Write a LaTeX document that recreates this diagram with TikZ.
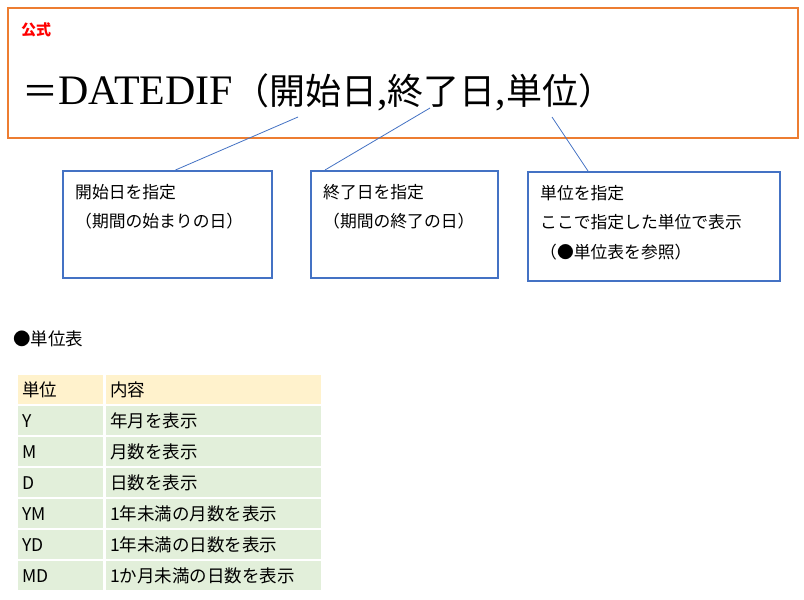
\documentclass[tikz,border=0pt]{standalone}
\usepackage{fontspec}
\setmainfont{Liberation Serif}
\newfontfamily\jpfont{Noto Sans CJK JP}
\usetikzlibrary{positioning}
\definecolor{frameorange}{HTML}{ED7D31}
\definecolor{noteblue}{HTML}{4472C4}
\definecolor{headfill}{HTML}{FFF2CC}
\definecolor{rowfill}{HTML}{E2EFDA}

\begin{document}
\begin{tikzpicture}[x=1pt,y=-1pt,
	frame/.style={draw=frameorange,line width=2pt,anchor=north west,inner sep=0pt},
	note/.style={draw=noteblue,line width=2pt,anchor=north west,inner sep=0pt},
	link/.style={draw=noteblue,line width=0.8pt},
	notetext/.style={anchor=west,inner sep=0pt,font=\jpfont\fontsize{16.8}{20}\selectfont},
	cell/.style={anchor=north west,fill=rowfill,inner xsep=4pt,inner ysep=0pt,minimum height=29pt,align=left,font=\jpfont\fontsize{17.5}{20}\selectfont},
	headcell/.style={cell,fill=headfill}]
	\useasboundingbox (0,0) rectangle (804,600);
	\fill[white] (0,0) rectangle (804,600);
	% formula
	\node[frame,minimum width=790pt,minimum height=130pt] (formulabox) at (7,7) {};
	\node[anchor=west,inner sep=0pt,text=red,font=\jpfont\bfseries\fontsize{15}{15}\selectfont] (koushiki) at (21,30) {公式};
	\node[anchor=base west,inner sep=0pt] (formula) at (22,104)
		{{\jpfont\fontsize{36}{36}\selectfont ＝}{\fontsize{42}{42}\selectfont DATEDIF}{\jpfont\fontsize{36}{36}\selectfont （開始日}{\fontsize{42}{42}\selectfont ,}{\jpfont\fontsize{36}{36}\selectfont 終了日}{\fontsize{42}{42}\selectfont ,}{\jpfont\fontsize{36}{36}\selectfont 単位）}};
	\coordinate (argstart) at (298,117);
	\coordinate (argend) at (430,108);
	\coordinate (argunit) at (552,117);
	% notes
	\node[note,minimum width=209pt,minimum height=107pt] (startnote) at (62,170) {};
	\node[note,minimum width=187pt,minimum height=107pt] (endnote) at (310,170) {};
	\node[note,minimum width=252pt,minimum height=109pt] (unitnote) at (527,171) {};
	\node[notetext] (startA) at (75,192) {開始日を指定};
	\node[notetext] (startB) at (75,221) {（期間の始まりの日）};
	\node[notetext] (endA) at (323,192) {終了日を指定};
	\node[notetext] (endB) at (323,221) {（期間の終了の日）};
	\node[notetext] (unitA) at (540,193) {単位を指定};
	\node[notetext] (unitB) at (540,222) {ここで指定した単位で表示};
	\node[notetext] (unitC) at (540,252) {（●単位表を参照）};
	\draw[link] (argstart) -- ([xshift=8pt]startnote.north);
	\draw[link] (argend) -- ([xshift=15pt]endnote.north west);
	\draw[link] (argunit) -- ([xshift=61pt]unitnote.north west);
	% unit table
	\node[anchor=west,inner sep=0pt,font=\jpfont\fontsize{17.5}{20}\selectfont] (tabletitle) at (13,339) {●単位表};
	\node[headcell,text width=77pt] (u0) at (18,375) {単位};
	\node[headcell,text width=207pt] (c0) at (106,375) {内容};
	\foreach \u/\c [count=\i] in {Y/年月を表示,M/月数を表示,D/日数を表示,YM/1年未満の月数を表示,YD/1年未満の日数を表示,MD/1か月未満の日数を表示}{
		\node[cell,text width=77pt] (u\i) at (18,375+31*\i) {\u};
		\node[cell,text width=207pt] (c\i) at (106,375+31*\i) {\c};
	}
\end{tikzpicture}
\end{document}
